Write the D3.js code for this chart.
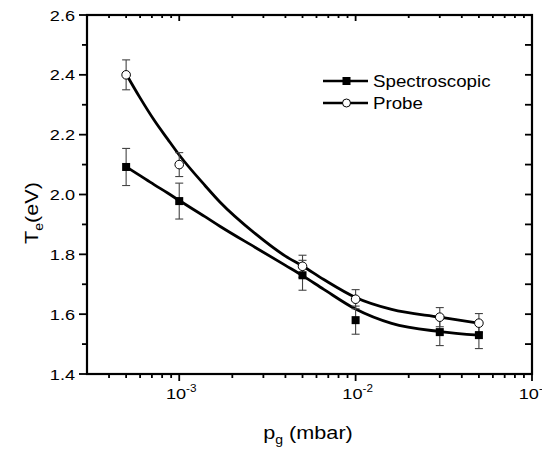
<!DOCTYPE html>
<html lang="en">
<head>
    <meta charset="UTF-8">
    <title>Te vs pg</title>
    <script src="https://cdnjs.cloudflare.com/ajax/libs/d3/7.8.5/d3.min.js"></script>
    <style>
        body { margin: 0; background: white; }
        svg text { font-family: "Liberation Sans", Arial, sans-serif; fill: #000; }
    </style>
</head>
<body>
    <div id="chart"></div>

    <script>
        // Data
        const pressure = [5e-4, 1e-3, 5e-3, 1e-2, 3e-2, 5e-2];
        const spectroscopic = [2.092, 1.978, 1.73, 1.58, 1.54, 1.53];
        const spectroscopicErr = [0.062, 0.06, 0.05, 0.047, 0.045, 0.045];
        const probe = [2.40, 2.10, 1.76, 1.65, 1.59, 1.57];
        const probeErr = [0.05, 0.04, 0.037, 0.032, 0.032, 0.032];

        // smooth fit curves
        const fitX = [5e-4, 6e-4, 7.2e-4, 8.6e-4, 1e-3, 1.4e-3, 1.7e-3, 2.7e-3, 4e-3, 5e-3, 6.6e-3, 1e-2, 1.6e-2, 3e-2, 5e-2];
        const fitSpectroscopic = [2.093, 2.063, 2.033, 2.005, 1.980, 1.926, 1.894, 1.823, 1.763, 1.729, 1.683, 1.617, 1.569, 1.542, 1.530];
        const fitProbe = [2.403, 2.323, 2.249, 2.185, 2.132, 2.030, 1.975, 1.869, 1.794, 1.761, 1.716, 1.656, 1.616, 1.590, 1.570];

        const yTicks = [1.4, 1.6, 1.8, 2.0, 2.2, 2.4, 2.6];
        const xTickExps = [-3, -2, -1];

        const width = 542, height = 454;
        const plotLeft = 87, plotRight = 532, plotTop = 15, plotBottom = 374;
        const stretch = 1.17;

        const svg = d3.select("#chart").append("svg")
            .attr("width", width)
            .attr("height", height);

        const x = d3.scaleLog().domain([3e-4, 0.1]).range([plotLeft, plotRight]);
        const y = d3.scaleLinear().domain([1.4, 2.6]).range([plotBottom, plotTop]);

        // tick positions
        const majorX = xTickExps.map(e => Math.pow(10, e));
        const minorX = [];
        [-4, -3, -2].forEach(e => {
            for (let m = 2; m <= 9; m++) {
                const v = m * Math.pow(10, e);
                if (v > 3.01e-4 && v < 0.1) minorX.push(v);
            }
        });
        const minorY = d3.range(1.5, 2.6, 0.2);

        // tick marks
        const ticks = svg.append("g").attr("stroke", "#000").attr("stroke-width", 1.8);
        function xTicks(vals, len) {
            vals.forEach(v => {
                ticks.append("line").attr("x1", x(v)).attr("x2", x(v))
                    .attr("y1", plotBottom).attr("y2", plotBottom + len);   // outward
                ticks.append("line").attr("x1", x(v)).attr("x2", x(v))
                    .attr("y1", plotTop).attr("y2", plotTop + len - 1);      // inward
            });
        }
        function yTickMarks(vals, lenL, lenR) {
            vals.forEach(v => {
                ticks.append("line").attr("x1", plotLeft - lenL).attr("x2", plotLeft)
                    .attr("y1", y(v)).attr("y2", y(v));                      // outward
                ticks.append("line").attr("x1", plotRight - lenR).attr("x2", plotRight)
                    .attr("y1", y(v)).attr("y2", y(v));                      // inward
            });
        }
        xTicks(majorX, 7);
        xTicks(minorX, 4);
        yTickMarks(yTicks, 8, 7);
        yTickMarks(minorY, 5, 7);

        // frame
        svg.append("rect")
            .attr("x", plotLeft).attr("y", plotTop)
            .attr("width", plotRight - plotLeft).attr("height", plotBottom - plotTop)
            .attr("fill", "none")
            .attr("stroke", "#000")
            .attr("stroke-width", 2.2);

        // tick labels
        yTicks.forEach(v => {
            svg.append("text")
                .attr("transform", `translate(75,${y(v) + 5.5}) scale(${stretch},1)`)
                .attr("text-anchor", "end")
                .style("font-size", "15.5px")
                .text(d3.format(".1f")(v));
        });
        xTickExps.forEach(e => {
            const t = svg.append("text")
                .attr("transform", `translate(${x(Math.pow(10, e)) + 2},399) scale(${stretch},1)`)
                .attr("text-anchor", "middle")
                .style("font-size", "15.5px");
            t.append("tspan").text("10");
            t.append("tspan").attr("dy", -7).style("font-size", "10px").text(e);
        });

        // axis titles
        const xt = svg.append("text")
            .attr("transform", `translate(308,439) scale(${stretch},1)`)
            .attr("text-anchor", "middle")
            .style("font-size", "18.5px");
        xt.append("tspan").text("p");
        xt.append("tspan").attr("dy", 5).style("font-size", "12px").text("g");
        xt.append("tspan").attr("dy", -5).text(" (mbar)");

        const yt = svg.append("text")
            .attr("transform", `translate(38,213) rotate(-90) scale(${stretch},1)`)
            .attr("text-anchor", "middle")
            .style("font-size", "18.5px");
        yt.append("tspan").text("T");
        yt.append("tspan").attr("dy", 5).style("font-size", "12px").text("e");
        yt.append("tspan").attr("dy", -5).text("(eV)");

        // fit curves
        const line = d3.line()
            .x(d => x(d[0]))
            .y(d => y(d[1]))
            .curve(d3.curveMonotoneX);

        [fitSpectroscopic, fitProbe].forEach(vals => {
            svg.append("path")
                .attr("d", line(fitX.map((px, i) => [px, vals[i]])))
                .attr("fill", "none")
                .attr("stroke", "#000")
                .attr("stroke-width", 2.8);
        });

        // error bars
        function errorBars(vals, errs) {
            const g = svg.append("g").attr("stroke", "#444").attr("stroke-width", 1.1);
            pressure.forEach((p, i) => {
                const cx = x(p);
                const y1 = y(vals[i] + errs[i]), y2 = y(vals[i] - errs[i]);
                g.append("line").attr("x1", cx).attr("x2", cx).attr("y1", y1).attr("y2", y2);
                g.append("line").attr("x1", cx - 4).attr("x2", cx + 4).attr("y1", y1).attr("y2", y1);
                g.append("line").attr("x1", cx - 4).attr("x2", cx + 4).attr("y1", y2).attr("y2", y2);
            });
        }
        errorBars(spectroscopic, spectroscopicErr);
        errorBars(probe, probeErr);

        // markers
        svg.selectAll("rect.spec")
            .data(pressure.map((p, i) => [p, spectroscopic[i]]))
            .enter().append("rect")
            .attr("class", "spec")
            .attr("x", d => x(d[0]) - 4)
            .attr("y", d => y(d[1]) - 4)
            .attr("width", 8).attr("height", 8)
            .attr("fill", "#000");

        svg.selectAll("circle.probe")
            .data(pressure.map((p, i) => [p, probe[i]]))
            .enter().append("circle")
            .attr("class", "probe")
            .attr("cx", d => x(d[0]))
            .attr("cy", d => y(d[1]))
            .attr("r", 4.3)
            .attr("fill", "#fff")
            .attr("stroke", "#000")
            .attr("stroke-width", 1);

        // legend
        const legend = svg.append("g").attr("transform", "translate(323,81)");
        const items = [
            { label: "Spectroscopic", marker: "square" },
            { label: "Probe", marker: "circle" }
        ];
        items.forEach((it, i) => {
            const g = legend.append("g").attr("transform", `translate(0,${i * 22})`);
            g.append("line")
                .attr("x1", 0).attr("x2", 45)
                .attr("stroke", "#000").attr("stroke-width", 2.4);
            if (it.marker === "square") {
                g.append("rect").attr("x", 19.5).attr("y", -4).attr("width", 8).attr("height", 8).attr("fill", "#000");
            } else {
                g.append("circle").attr("cx", 23.5).attr("r", 4).attr("fill", "#fff")
                    .attr("stroke", "#000").attr("stroke-width", 1);
            }
            g.append("text")
                .attr("transform", `translate(50,6) scale(${stretch},1)`)
                .style("font-size", "16px")
                .text(it.label);
        });
    </script>
</body>
</html>
